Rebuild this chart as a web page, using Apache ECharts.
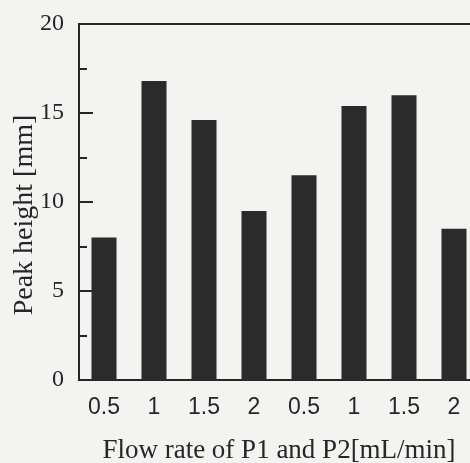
<!DOCTYPE html>
<html>
<head>
<meta charset="utf-8">
<script src="https://cdn.jsdelivr.net/npm/echarts@6/dist/echarts.min.js"></script>
<style>
html,body{margin:0;padding:0;background:#f3f3f1;}
#chart{width:470px;height:463px;}
</style>
</head>
<body>
<div id="chart"></div>
<script>
const categories = ['0.5', '1', '1.5', '2', '0.5', '1', '1.5', '2'];
const peakHeights = [8.0, 16.8, 14.6, 9.5, 11.5, 15.4, 16.0, 8.5];
const yTicks = [0, 5, 10, 15, 20];
const xTitle = 'Flow rate of P1 and P2[mL/min]';
const yTitle = 'Peak height [mm]';

const ink = '#262626';
const chart = echarts.init(document.getElementById('chart'), null, {renderer: 'canvas'});
chart.setOption({
  backgroundColor: '#f3f3f1',
  animation: false,
  grid: {
    left: 79, top: 24, width: 400, height: 356,
    outerBoundsMode: 'none',
    containLabel: false,
    show: true, borderColor: ink, borderWidth: 2, backgroundColor: 'transparent'
  },
  xAxis: {
    type: 'category',
    data: categories,
    axisLine: {lineStyle: {color: ink, width: 2}},
    axisTick: {show: false},
    axisLabel: {
      color: ink, fontFamily: 'Liberation Sans', fontSize: 23, margin: 16, interval: 0
    },
    name: xTitle,
    nameLocation: 'middle',
    nameGap: 57,
    nameMoveOverlap: false,
    nameTextStyle: {color: ink, fontFamily: 'Liberation Serif', fontSize: 27}
  },
  yAxis: {
    type: 'value',
    min: yTicks[0],
    max: yTicks[yTicks.length - 1],
    interval: yTicks[1] - yTicks[0],
    axisLine: {show: true, lineStyle: {color: ink, width: 2}},
    axisTick: {show: true, inside: true, length: 14, lineStyle: {color: ink, width: 2}},
    minorTick: {show: true, splitNumber: 2, length: 8, lineStyle: {color: ink, width: 2}},
    splitLine: {show: false},
    axisLabel: {color: ink, fontFamily: 'Liberation Serif', fontSize: 24, margin: 15},
    name: yTitle,
    nameLocation: 'middle',
    nameGap: 40,
    nameMoveOverlap: false,
    nameTextStyle: {color: ink, fontFamily: 'Liberation Serif', fontSize: 28, padding: [0, 26, 0, 0]}
  },
  series: [{
    type: 'bar',
    data: peakHeights,
    barWidth: '50%',
    itemStyle: {color: '#2b2b2b'}
  }]
});
</script>
</body>
</html>
